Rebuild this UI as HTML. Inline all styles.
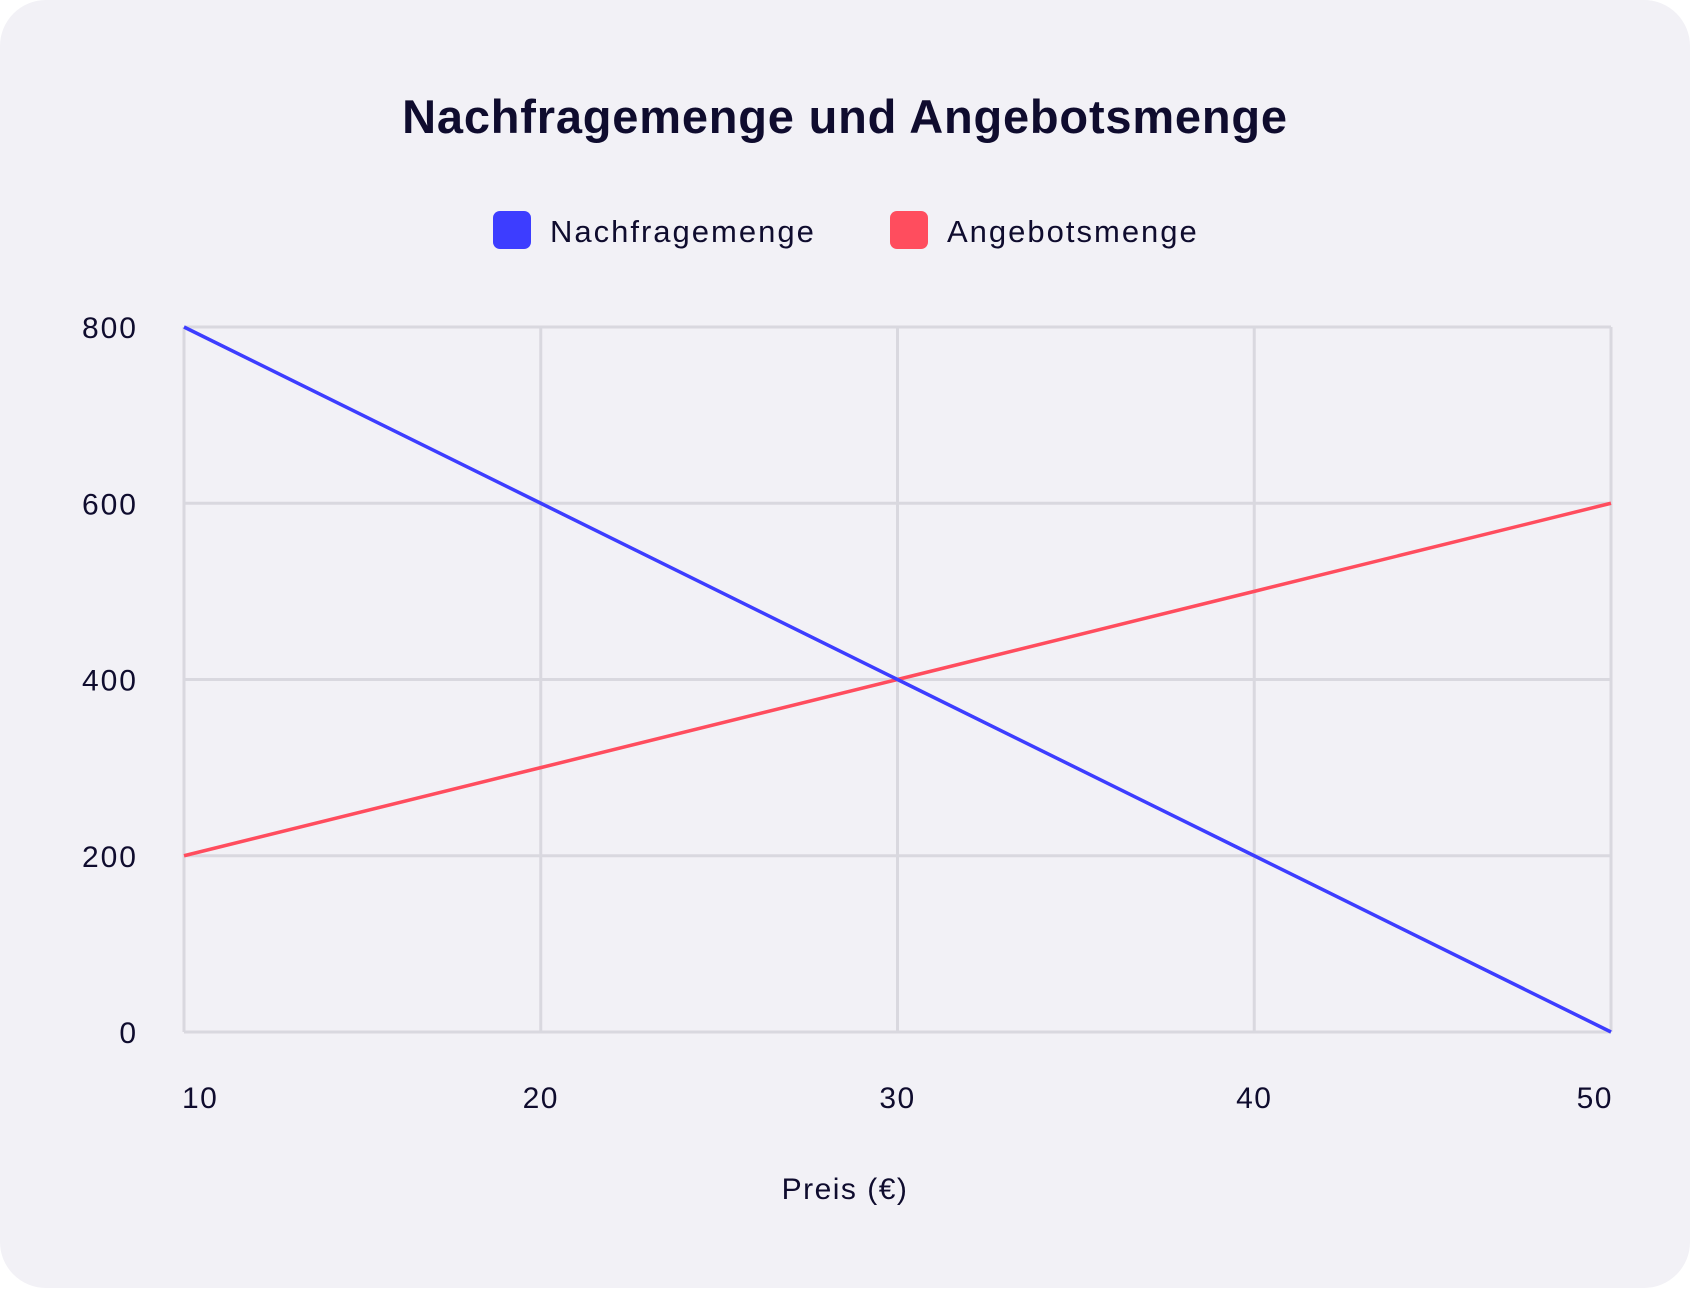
<!DOCTYPE html>
<html><head><meta charset="utf-8"><style>
html,body{margin:0;padding:0;background:#fff;}
#card{position:absolute;left:0;top:0;width:1690px;height:1288px;background:#f2f1f6;border-radius:46px;font-family:"Liberation Sans",sans-serif;color:#0f0c2e;}
</style></head><body>
<div id="card">
<svg width="1692" height="1290">
<text x="845" y="133" text-anchor="middle" font-size="47" font-weight="bold" letter-spacing="0.8" fill="#0f0c2e">Nachfragemenge und Angebotsmenge</text>
<g>
<rect x="493" y="211" width="38" height="38" rx="7" fill="#3d3dff"/>
<text x="550" y="242" font-size="31" letter-spacing="2" fill="#0f0c2e">Nachfragemenge</text>
<rect x="890" y="211" width="38" height="38" rx="7" fill="#ff4d5e"/>
<text x="947" y="242" font-size="31" letter-spacing="2" fill="#0f0c2e">Angebotsmenge</text>
</g>
<g id="grid"></g><g id="lines"></g><g id="labels"></g>
<text x="845" y="1199" text-anchor="middle" font-size="30" letter-spacing="1.5" fill="#0f0c2e">Preis (€)</text>
</svg>
</div>
<script>
const categories=[10,20,30,40,50];
const nachfrage=[800,600,400,200,0];
const angebot=[200,300,400,500,600];
const yTicks=[0,200,400,600,800];
const X0=184,X1=1611,Y0=1032,Y1=327;
const xs=v=>X0+(v-10)/40*(X1-X0);
const ys=v=>Y0-v/800*(Y0-Y1);
const NS="http://www.w3.org/2000/svg";
const grid=document.getElementById('grid'),lines=document.getElementById('lines'),labels=document.getElementById('labels');
function mk(tag,attrs,parent){const e=document.createElementNS(NS,tag);for(const k in attrs)e.setAttribute(k,attrs[k]);parent.appendChild(e);return e;}
yTicks.forEach(t=>{
 const l=mk('line',{x1:X0,x2:X1,y1:ys(t),y2:ys(t),stroke:'#d9d8df','stroke-width':3},grid);
 
 
 const tx=mk('text',{x:138,y:ys(t)+11,'text-anchor':'end','font-size':30,'letter-spacing':2,fill:'#0f0c2e'},labels);
 tx.textContent=t;
 
 
});
categories.forEach((c,i)=>{
 const l=mk('line',{x1:xs(c),x2:xs(c),y1:Y1,y2:Y0,stroke:'#d9d8df','stroke-width':3},grid);
 
 
 const anchor=i===0?'start':(i===categories.length-1?'end':'middle');
 const tx=mk('text',{x:xs(c)+(i===0?-2:(i===categories.length-1?2:0)),y:1108,'text-anchor':anchor,'font-size':30,'letter-spacing':1.5,fill:'#0f0c2e'},labels);
 tx.textContent=c;
 
 
});
function series(vals,color,name){
 const p=mk('polyline',{points:vals.map((v,i)=>xs(categories[i])+','+ys(v)).join(' '),fill:'none',stroke:color,'stroke-width':3.5},lines);
 
 
}
series(angebot,'#ff4d5e','angebot-line');
series(nachfrage,'#3d3dff','nachfrage-line');
</script>
</body></html>
